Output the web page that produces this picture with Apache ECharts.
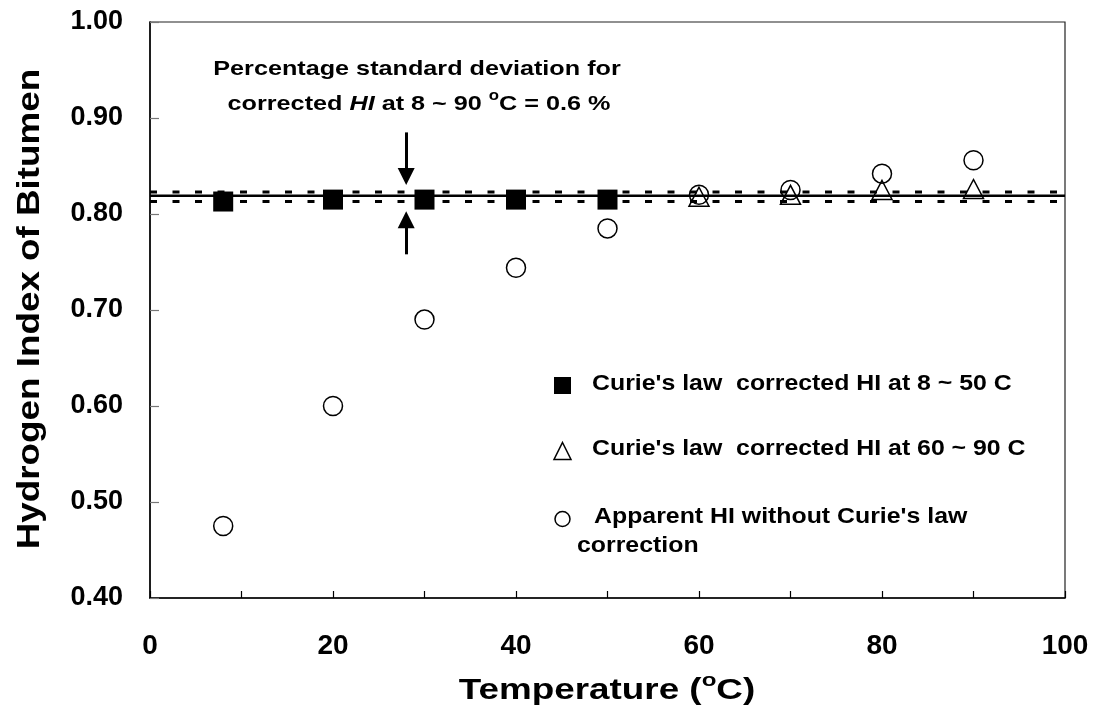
<!DOCTYPE html>
<html>
<head>
<meta charset="utf-8">
<script src="https://cdn.jsdelivr.net/npm/echarts/dist/echarts.min.js"></script>
<style>
  body { margin: 0; background: #fff; }
  #chart { width: 1098px; height: 711px; }
</style>
</head>
<body>
<div id="chart"></div>
<script>
const FONT = "'Liberation Sans', Arial, sans-serif"

// Curie's law corrected HI, 8 ~ 50 C
const tempLow = [8, 20, 30, 40, 50]
const hiLow = [0.813, 0.815, 0.815, 0.815, 0.815]
// Curie's law corrected HI, 60 ~ 90 C
const tempHigh = [60, 70, 80, 90]
const hiHigh = [0.818, 0.820, 0.825, 0.826]
// apparent HI, no correction
const tempApparent = [8, 20, 30, 40, 50, 60, 70, 80, 90]
const hiApparent = [0.475, 0.600, 0.690, 0.744, 0.785, 0.820, 0.825, 0.842, 0.856]

const meanHI = 0.819
const bandHI = [0.813, 0.823]
const lineX = [0, 100]

const arrowX = 28
const arrowDown = [0.885, 0.839]
const arrowUp = [0.758, 0.794]

const xTicks = [0, 100, 10]
const yTicks = [0.4, 1.0, 0.1]

let myChart = echarts.init(document.getElementById('chart'), null, { renderer: 'canvas' })

let hLine = (y) => lineX.map(x => [x, y])
let pairs = (xs, ys) => xs.map((x, i) => [x, ys[i]])

let legendTextStyle = {
  fill: '#000',
  font: `bold 22px ${FONT}`,
  align: 'left',
  verticalAlign: 'middle'
}

myChart.setOption({
  backgroundColor: '#fff',
  animation: false,
  grid: {
    left: 150,
    right: 33,
    top: 22,
    bottom: 113,
    show: true,
    borderColor: '#222',
    borderWidth: 1.2
  },
  xAxis: {
    type: 'value',
    min: xTicks[0],
    max: xTicks[1],
    interval: xTicks[2],
    axisLine: { lineStyle: { color: '#000', width: 1.5 } },
    axisTick: { inside: true, length: 7, lineStyle: { color: '#000', width: 1.2 } },
    splitLine: { show: false },
    axisLabel: {
      margin: 34,
      color: '#000',
      fontFamily: FONT,
      fontWeight: 'bold',
      fontSize: 28,
      formatter: v => (v % 20 === 0 ? v : '')
    }
  },
  yAxis: {
    type: 'value',
    min: yTicks[0],
    max: yTicks[1],
    interval: yTicks[2],
    axisLine: { show: true, lineStyle: { color: '#000', width: 1.5 } },
    axisTick: { show: true, inside: true, length: 9, lineStyle: { color: '#777', width: 1.2 } },
    splitLine: { show: false },
    axisLabel: {
      margin: 27,
      color: '#000',
      fontFamily: FONT,
      fontWeight: 'bold',
      fontSize: 27,
      formatter: v => v.toFixed(2)
    }
  },
  series: [
    {
      type: 'line',
      data: hLine(bandHI[1]),
      symbol: 'none',
      silent: true,
      lineStyle: { color: '#000', width: 3, type: [7, 15.5] }
    },
    {
      type: 'line',
      data: hLine(bandHI[0]),
      symbol: 'none',
      silent: true,
      lineStyle: { color: '#000', width: 3, type: [7, 15.5] }
    },
    {
      type: 'line',
      data: hLine(meanHI),
      symbol: 'none',
      silent: true,
      lineStyle: { color: '#000', width: 2.7 },
      markLine: {
        silent: true,
        symbol: ['none', 'triangle'],
        symbolSize: 17,
        label: { show: false },
        lineStyle: { color: '#000', width: 3, type: 'solid' },
        data: [
          [{ coord: [arrowX, arrowDown[0]] }, { coord: [arrowX, arrowDown[1]] }],
          [{ coord: [arrowX, arrowUp[0]] }, { coord: [arrowX, arrowUp[1]] }]
        ]
      }
    },
    {
      name: "Curie's law corrected HI at 8 ~ 50 C",
      type: 'scatter',
      symbol: 'rect',
      symbolSize: 20,
      data: pairs(tempLow, hiLow),
      itemStyle: { color: '#000', opacity: 1 }
    },
    {
      name: "Curie's law corrected HI at 60 ~ 90 C",
      type: 'scatter',
      symbol: 'triangle',
      symbolSize: [20, 19],
      data: pairs(tempHigh, hiHigh),
      itemStyle: { color: 'rgba(255,255,255,0)', borderColor: '#000', borderWidth: 1.5, opacity: 1 }
    },
    {
      name: "Apparent HI without Curie's law correction",
      type: 'scatter',
      symbol: 'circle',
      symbolSize: 19,
      data: pairs(tempApparent, hiApparent),
      itemStyle: { color: 'rgba(255,255,255,0)', borderColor: '#000', borderWidth: 1.5, opacity: 1 }
    }
  ],
  graphic: [
    {
      type: 'text',
      x: 417,
      y: 69,
      scaleX: 1.2,
      style: {
        text: 'Percentage standard deviation for',
        fill: '#000',
        font: `bold 21px ${FONT}`,
        align: 'center',
        verticalAlign: 'middle'
      }
    },
    {
      type: 'text',
      x: 419,
      y: 102,
      scaleX: 1.2,
      style: {
        text: '{a|corrected }{i|HI}{a| at 8 ~ 90 }{s|o}{a|C = 0.6 %}',
        fill: '#000',
        align: 'center',
        verticalAlign: 'middle',
        rich: {
          a: { font: `bold 21px ${FONT}`, lineHeight: 26, verticalAlign: 'bottom' },
          i: { font: `italic bold 21px ${FONT}`, lineHeight: 26, verticalAlign: 'bottom' },
          s: { font: `bold 14px ${FONT}`, lineHeight: 26, verticalAlign: 'top' }
        }
      }
    },
    {
      type: 'text',
      x: 607,
      y: 688,
      scaleX: 1.27,
      style: {
        text: '{t|Temperature (}{s|o}{t|C)}',
        fill: '#000',
        align: 'center',
        verticalAlign: 'middle',
        rich: {
          t: { font: `bold 29px ${FONT}`, lineHeight: 34, verticalAlign: 'bottom' },
          s: { font: `bold 19px ${FONT}`, lineHeight: 34, verticalAlign: 'top' }
        }
      }
    },
    {
      type: 'text',
      x: 30,
      y: 309,
      rotation: Math.PI / 2,
      scaleX: 1.15,
      style: {
        text: 'Hydrogen Index of Bitumen',
        fill: '#000',
        font: `bold 32px ${FONT}`,
        align: 'center',
        verticalAlign: 'middle'
      }
    },
    {
      type: 'rect',
      shape: { x: 554, y: 377, width: 17, height: 17 },
      style: { fill: '#000' }
    },
    {
      type: 'polygon',
      shape: { points: [[562.5, 442.5], [571, 459.5], [554, 459.5]] },
      style: { fill: '#fff', stroke: '#000', lineWidth: 1.5 }
    },
    {
      type: 'circle',
      shape: { cx: 562.5, cy: 519, r: 7.5 },
      style: { fill: '#fff', stroke: '#000', lineWidth: 1.5 }
    },
    {
      type: 'text',
      x: 592,
      y: 384,
      scaleX: 1.13,
      style: Object.assign({ text: "Curie's law  corrected HI at 8 ~ 50 C" }, legendTextStyle)
    },
    {
      type: 'text',
      x: 592,
      y: 449,
      scaleX: 1.13,
      style: Object.assign({ text: "Curie's law  corrected HI at 60 ~ 90 C" }, legendTextStyle)
    },
    {
      type: 'text',
      x: 594,
      y: 517,
      scaleX: 1.13,
      style: Object.assign({ text: "Apparent HI without Curie's law" }, legendTextStyle)
    },
    {
      type: 'text',
      x: 577,
      y: 546,
      scaleX: 1.13,
      style: Object.assign({ text: 'correction' }, legendTextStyle)
    }
  ]
})
</script>
</body>
</html>
